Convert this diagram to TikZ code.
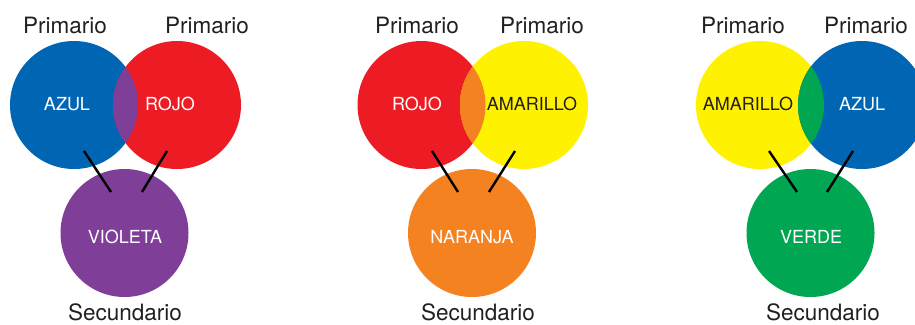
\documentclass[tikz,border=0pt]{standalone}
\usepackage{fontspec}
\setmainfont{TeX Gyre Heros}
\usepackage{tikz}

\definecolor{cazul}{RGB}{0,102,179}
\definecolor{crojo}{RGB}{237,28,36}
\definecolor{camarillo}{RGB}{255,242,0}
\definecolor{cvioleta}{RGB}{127,63,152}
\definecolor{cnaranja}{RGB}{245,130,32}
\definecolor{cverde}{RGB}{0,166,81}
\definecolor{ctexto}{RGB}{35,31,32}

\begin{document}
\begin{tikzpicture}[x=1pt,y=-1pt]
\tikzstyle{disco}=[circle,inner sep=0pt,minimum size=128pt];
\tikzstyle{tag}=[inner sep=0pt,anchor=base,text=white,font=\fontsize{18}{19}\selectfont];
\tikzstyle{rotulo}=[inner sep=0pt,anchor=base,text=ctexto,font=\fontsize{22.5}{24}\selectfont];
\tikzstyle{raya}=[line width=2.4pt,black];
\useasboundingbox (0,0) rectangle (915,324);
% grupo 1: azul + rojo = violeta
%   discos
    \node[disco,fill=cazul] (azul1) at (74,105) {};
    \node[disco,fill=crojo,path picture={\fill[cvioleta] (azul1.center) circle[radius=64pt];}] (rojo1) at (177,105) {};
    \node[disco,fill=cvioleta] (violeta) at (124.5,233) {};
%   textos
    \node[tag] (tazul1) at (67,110) {AZUL};
    \node[tag] (trojo1) at (170,110) {ROJO};
    \node[tag] (tvioleta) at (125,243) {VIOLETA};
    \node[rotulo] (p1a) at (65,33) {Primario};
    \node[rotulo] (p1b) at (207,33) {Primario};
    \node[rotulo] (s1) at (125,320) {Secundario};
%   rayas
    \coordinate (a1) at (84,151);
    \coordinate (b1) at (111,192);
    \coordinate (c1) at (167,151);
    \coordinate (d1) at (142,192);
    \draw[raya] (a1) -- (b1);
    \draw[raya] (c1) -- (d1);
% grupo 2: rojo + amarillo = naranja
%   discos
    \node[disco,fill=crojo] (rojo2) at (421.5,105) {};
    \node[disco,fill=camarillo,path picture={\fill[cnaranja] (rojo2.center) circle[radius=64pt];}] (amarillo2) at (524,105) {};
    \node[disco,fill=cnaranja] (naranja) at (472,233) {};
%   textos
    \node[tag] (trojo2) at (417,110) {ROJO};
    \node[tag,text=ctexto] (tamarillo2) at (532,110) {AMARILLO};
    \node[tag] (tnaranja) at (472,243) {NARANJA};
    \node[rotulo] (p2a) at (417,33) {Primario};
    \node[rotulo] (p2b) at (542,33) {Primario};
    \node[rotulo] (s2) at (478,320) {Secundario};
%   rayas
    \coordinate (a2) at (432,151);
    \coordinate (b2) at (458,192);
    \coordinate (c2) at (515,151);
    \coordinate (d2) at (489,192);
    \draw[raya] (a2) -- (b2);
    \draw[raya] (c2) -- (d2);
% grupo 3: amarillo + azul = verde
%   discos
    \node[disco,fill=camarillo] (amarillo3) at (760,105) {};
    \node[disco,fill=cazul,path picture={\fill[cverde] (amarillo3.center) circle[radius=64pt];}] (azul3) at (862,105) {};
    \node[disco,fill=cverde] (verde) at (810.5,233) {};
%   textos
    \node[tag,text=ctexto] (tamarillo3) at (748,110) {AMARILLO};
    \node[tag] (tazul3) at (862,110) {AZUL};
    \node[tag] (tverde) at (811,243) {VERDE};
    \node[rotulo] (p3a) at (743,33) {Primario};
    \node[rotulo] (p3b) at (866,33) {Primario};
    \node[rotulo] (s3) at (823,320) {Secundario};
%   rayas
    \coordinate (a3) at (769,151);
    \coordinate (b3) at (797,192);
    \coordinate (c3) at (853,151);
    \coordinate (d3) at (827,192);
    \draw[raya] (a3) -- (b3);
    \draw[raya] (c3) -- (d3);
\end{tikzpicture}
\end{document}
